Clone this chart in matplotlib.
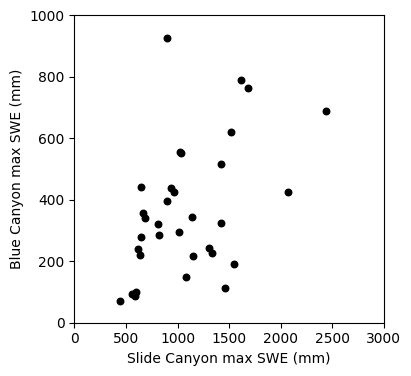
import matplotlib
matplotlib.use("Agg")
import matplotlib.pyplot as plt

slide_swe = [893, 1616, 1686, 2437, 1519, 1020, 1035, 1423, 642, 932, 964, 2068,
             893, 662, 684, 1144, 806, 1423, 816, 642, 1018, 614, 633, 1147,
             1307, 1330, 1544, 1086, 1462, 440, 562, 588, 601]
blue_swe = [924, 788, 762, 687, 619, 555, 551, 515, 440, 437, 424, 424,
            395, 356, 339, 342, 321, 323, 284, 277, 294, 238, 219, 216,
            243, 225, 190, 147, 112, 69, 92, 88, 99]

fig = plt.figure(figsize=(4.11, 3.76), dpi=100)
ax = fig.add_axes([0.181, 0.142, 0.753, 0.818])
ax.scatter(slide_swe, blue_swe, s=22, c="black")
ax.set_xlim(0, 3000)
ax.set_ylim(0, 1000)
ax.set_xticks([0, 500, 1000, 1500, 2000, 2500, 3000])
ax.set_yticks([0, 200, 400, 600, 800, 1000])
ax.set_xlabel("Slide Canyon max SWE (mm)")
ax.set_ylabel("Blue Canyon max SWE (mm)")
fig.savefig("out.png", dpi=100)
